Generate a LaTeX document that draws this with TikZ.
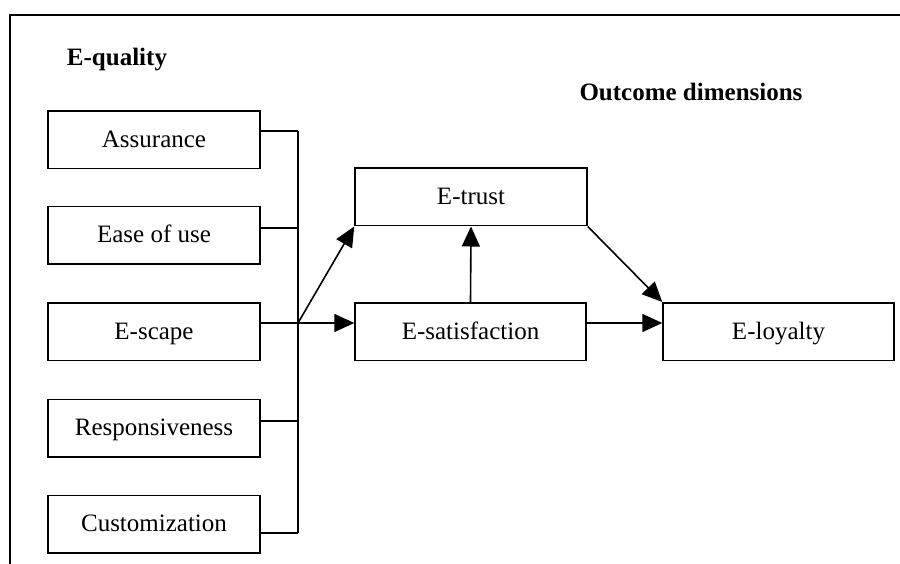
\documentclass[tikz,border=0pt]{standalone}
\usepackage{fontspec}
\setmainfont{Liberation Serif}
\usetikzlibrary{arrows.meta}
\begin{document}
\begin{tikzpicture}[x=1pt,y=-1pt,
  box/.style={draw,line width=1.5pt,minimum width=212pt,minimum height=57.5pt,inner sep=0pt,text height=16pt,text depth=1pt,font=\fontsize{25}{30}\selectfont},
  obox/.style={draw,line width=1.5pt,minimum width=232pt,minimum height=57.5pt,inner sep=0pt,text height=16pt,text depth=1pt,font=\fontsize{25}{30}\selectfont},
  ttl/.style={font=\fontsize{25}{30}\selectfont\bfseries,inner sep=0pt},
  wire/.style={line width=1.6pt},
  arr/.style={line width=1.6pt,-{Triangle[length=20pt,width=18pt]}},
  frm/.style={line width=2.2pt}]
\useasboundingbox (0,0) rectangle (900,564);
% frame
\coordinate (f1) at (900,15);
\coordinate (f2) at (10,15);
\coordinate (f3) at (10,564);
\draw[frm] (f1) -- (f2) -- (f3);
% titles
\node[ttl] (eq) at (117,60) {E-quality};
\node[ttl] (od) at (691,92) {Outcome dimensions};
% left boxes
\node[box] (a1) at (154,140) {Assurance};
\node[box] (a2) at (154,235.5) {Ease of use};
\node[box] (a3) at (154,331.5) {E-scape};
\node[box] (a4) at (154,428) {Responsiveness};
\node[box] (a5) at (154,524) {Customization};
% bus points
\coordinate (b1) at (298,131);
\coordinate (b2) at (298,228);
\coordinate (b3) at (298,323);
\coordinate (b4) at (298,421);
\coordinate (b5) at (298,533);
\draw[wire] (a1.east |- b1) -- (b1);
\draw[wire] (a2.east |- b2) -- (b2);
\draw[wire] (a3.east |- b3) -- (b3);
\draw[wire] (a4.east |- b4) -- (b4);
\draw[wire] (a5.east |- b5) -- (b5);
\draw[wire] (b1) -- (b5);
% outcome boxes
\node[obox] (trust) at (471,197) {E-trust};
\node[obox,minimum width=231pt] (sat) at (470.5,331.5) {E-satisfaction};
\node[obox,minimum width=231pt] (loy) at (778.5,331.5) {E-loyalty};
% arrows
\draw[arr] (b3) -- (sat.west |- b3);
\draw[arr] (b3) -- (trust.south west);
\draw[arr] (sat.north) -- (trust.south);
\draw[arr] (trust.south east) -- (loy.north west);
\draw[arr] (sat.east |- b3) -- (loy.west |- b3);
\end{tikzpicture}
\end{document}
